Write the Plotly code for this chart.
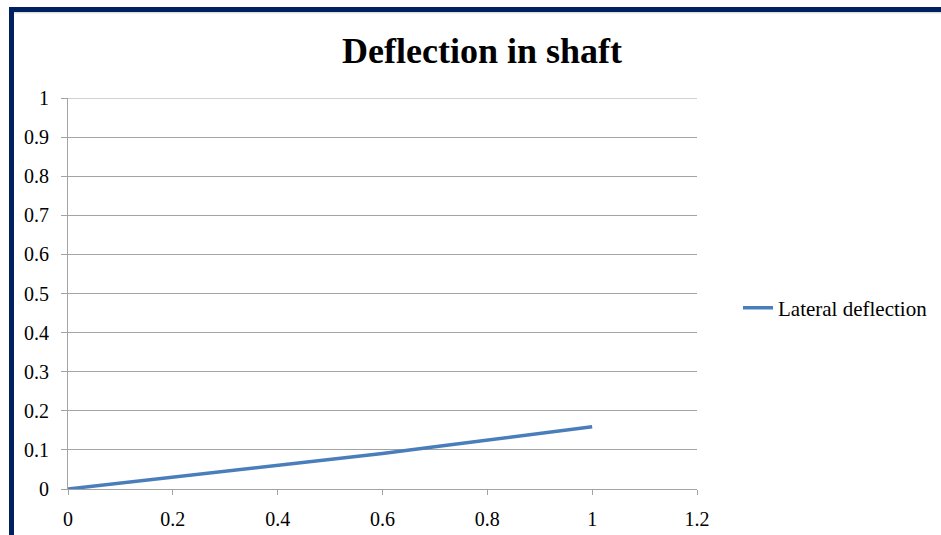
import plotly.graph_objects as go

# Lateral deflection along the shaft (normalised position)
position = [0, 0.1, 0.2, 0.3, 0.4, 0.5, 0.6, 0.7, 0.8, 0.9, 1.0]
deflection = [0, 0.015, 0.030, 0.044, 0.059, 0.075, 0.091, 0.108, 0.125, 0.142, 0.159]

x_ticks = [0, 0.2, 0.4, 0.6, 0.8, 1.0, 1.2]
x_labels = ["0", "0.2", "0.4", "0.6", "0.8", "1", "1.2"]
y_ticks = [0, 0.1, 0.2, 0.3, 0.4, 0.5, 0.6, 0.7, 0.8, 0.9, 1.0]
y_labels = ["0", "0.1", "0.2", "0.3", "0.4", "0.5", "0.6", "0.7", "0.8", "0.9", "1"]

W, H = 941, 535
L, R, T, B = 68, 244, 98, 46
pw, ph = W - L - R, H - T - B


def px_x(p):
    return (p - L) / pw


def px_y(p):
    return (H - B - p) / ph


SERIF = "Liberation Serif, Times New Roman, serif"
GRID = "#a3a3a3"
NAVY = "#002060"

fig = go.Figure()
fig.add_trace(go.Scatter(
    x=position, y=deflection, mode="lines", name="Lateral deflection",
    line=dict(color="#4a7ebb", width=3.5),
))

shapes = [
    # top gridline at the upper end of the value axis
    dict(type="line", xref="paper", yref="y", layer="below",
         x0=0, x1=1, y0=y_ticks[-1], y1=y_ticks[-1],
         line=dict(color=GRID, width=1)),
    # frame: top and left bars
    dict(type="rect", xref="paper", yref="paper", layer="above",
         x0=px_x(9), x1=px_x(941), y0=px_y(12), y1=px_y(7),
         fillcolor=NAVY, line=dict(width=0)),
    dict(type="rect", xref="paper", yref="paper", layer="above",
         x0=px_x(9), x1=px_x(14), y0=px_y(535), y1=px_y(7),
         fillcolor=NAVY, line=dict(width=0)),
    dict(type="line", xref="paper", yref="paper", layer="above",
         x0=px_x(14), x1=px_x(941), y0=px_y(12.8), y1=px_y(12.8),
         line=dict(color="#d0d0d0", width=1)),
]

fig.update_layout(
    width=W, height=H,
    margin=dict(l=L, r=R, t=T, b=B, pad=0, autoexpand=False),
    paper_bgcolor="white", plot_bgcolor="white",
    title=dict(text="<b>Deflection in shaft</b>", x=px_x(482), xref="paper",
               xanchor="center", y=1 - 50 / H, yanchor="middle",
               font=dict(family=SERIF, size=36, color="black")),
    font=dict(family=SERIF, size=20, color="black"),
    showlegend=True,
    legend=dict(x=px_x(738), xanchor="left", y=px_y(308), yanchor="middle",
                font=dict(family=SERIF, size=21, color="black"),
                bgcolor="rgba(0,0,0,0)"),
    xaxis=dict(range=[0, 1.2], tickvals=x_ticks, ticktext=x_labels,
               showgrid=False, zeroline=False, showline=True,
               linecolor=GRID, linewidth=1, ticks="outside", ticklen=5,
               tickcolor=GRID, tickfont=dict(family=SERIF, size=20),
               ticklabelstandoff=7, automargin=False),
    yaxis=dict(range=[0, 1.0], tickvals=y_ticks, ticktext=y_labels,
               showgrid=True, gridcolor=GRID, gridwidth=1, zeroline=False,
               showline=True, linecolor=GRID, linewidth=1,
               ticks="outside", ticklen=6, tickcolor=GRID,
               tickfont=dict(family=SERIF, size=20), ticklabelstandoff=8,
               automargin=False),
    shapes=shapes,
)

fig.write_html("out.html")
